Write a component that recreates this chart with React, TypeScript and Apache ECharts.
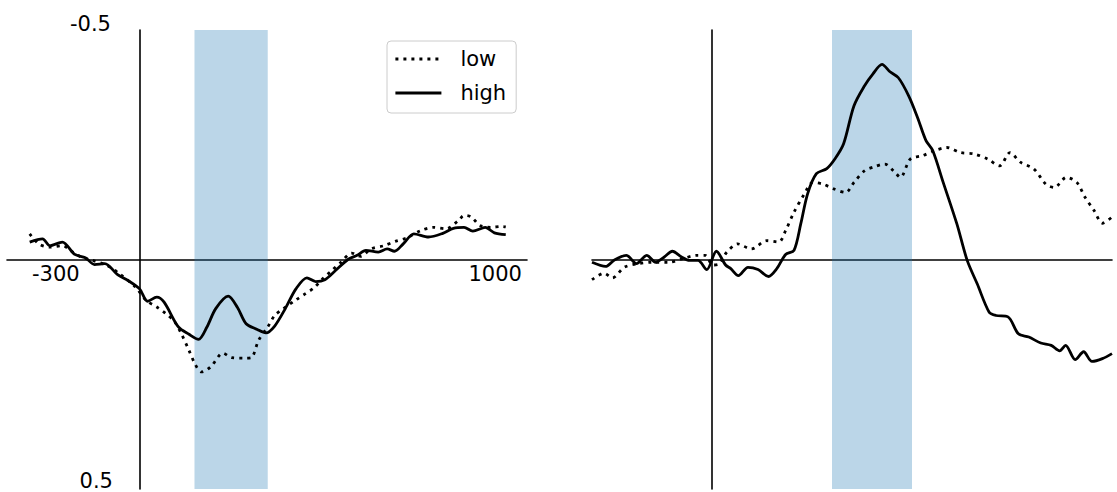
import React, { useEffect, useRef } from 'react';
import * as echarts from 'echarts';

// [time (ms), amplitude] pairs
const LEFT_LOW: number[][] = [
  [-300, -0.056], [-275, -0.034], [-245, -0.027], [-211, -0.03], [-182, -0.016], [-156, -0.004],
  [-128, 0.002], [-89, 0.013], [-55, 0.031], [-11, 0.06], [18, 0.089], [48, 0.104], [72, 0.118],
  [96, 0.136], [116, 0.165], [135, 0.198], [153, 0.23], [169, 0.245], [194, 0.234], [228, 0.204],
  [252, 0.214], [286, 0.215], [305, 0.214], [325, 0.176], [350, 0.147], [369, 0.122], [393, 0.107],
  [427, 0.088], [452, 0.075], [476, 0.062], [500, 0.042], [525, 0.024], [550, 0.006], [579, -0.014],
  [603, -0.007], [632, -0.023], [667, -0.03], [700, -0.04], [730, -0.047], [768, -0.063], [803, -0.07],
  [837, -0.067], [871, -0.085], [886, -0.096], [905, -0.093], [930, -0.074], [959, -0.07], [988, -0.072],
  [1000, -0.071],
];

const LEFT_HIGH: number[][] = [
  [-300, -0.038], [-265, -0.045], [-245, -0.03], [-211, -0.038], [-177, -0.011], [-148, -0.004],
  [-123, 0.011], [-95, 0.009], [-60, 0.033], [-31, 0.046], [0, 0.064], [22, 0.091], [47, 0.082],
  [67, 0.093], [106, 0.147], [135, 0.163], [161, 0.174], [184, 0.147], [208, 0.107], [242, 0.08],
  [267, 0.104], [291, 0.14], [320, 0.152], [345, 0.16], [369, 0.145], [398, 0.107], [427, 0.064],
  [457, 0.04], [481, 0.048], [506, 0.044], [535, 0.024], [569, 0.0], [594, -0.009], [618, -0.02],
  [652, -0.016], [676, -0.023], [696, -0.018], [720, -0.034], [749, -0.056], [789, -0.049], [828, -0.057],
  [857, -0.068], [886, -0.07], [910, -0.062], [944, -0.07], [969, -0.058], [1000, -0.054],
];

const RIGHT_LOW: number[][] = [
  [-300, 0.044], [-270, 0.03], [-249, 0.04], [-219, 0.017], [-184, 0.009], [-150, 0.006],
  [-107, 0.006], [-73, -0.002], [-39, -0.009], [-17, -0.009], [2, 0.012], [15, 0.011], [37, -0.016],
  [64, -0.034], [98, -0.023], [137, -0.041], [167, -0.038], [184, -0.063], [205, -0.103], [231, -0.143],
  [252, -0.168], [278, -0.164], [304, -0.154], [334, -0.146], [355, -0.168], [381, -0.193], [406, -0.202],
  [432, -0.208], [454, -0.193], [471, -0.179], [496, -0.219], [526, -0.226], [556, -0.237], [587, -0.244],
  [621, -0.233], [655, -0.23], [689, -0.219], [719, -0.204], [745, -0.233], [771, -0.212], [805, -0.197],
  [835, -0.164], [856, -0.157], [886, -0.179], [912, -0.168], [933, -0.135], [955, -0.107], [976, -0.079],
  [998, -0.091],
];

const RIGHT_HIGH: number[][] = [
  [-300, 0.006], [-266, 0.015], [-244, 0.001], [-214, -0.009], [-189, 0.009], [-163, -0.009],
  [-141, 0.006], [-120, -0.005], [-99, -0.018], [-77, -0.006], [-56, 0.002], [-35, 0.002], [-13, 0.022],
  [11, -0.018], [34, 0.012], [47, 0.02], [66, 0.035], [90, 0.017], [115, 0.022], [141, 0.037],
  [162, 0.02], [184, -0.011], [205, -0.02], [222, -0.078], [239, -0.143], [261, -0.187], [287, -0.198],
  [308, -0.22], [329, -0.252], [355, -0.335], [381, -0.378], [402, -0.404], [425, -0.425], [445, -0.409],
  [466, -0.396], [492, -0.356], [514, -0.309], [535, -0.259], [552, -0.237], [578, -0.168], [612, -0.078],
  [638, 0.002], [663, 0.053], [693, 0.115], [710, 0.122], [740, 0.125], [766, 0.162], [792, 0.169],
  [822, 0.182], [848, 0.187], [869, 0.199], [884, 0.187], [908, 0.218], [929, 0.201], [950, 0.222],
  [976, 0.216], [1000, 0.205],
];

const SERIES_NAMES = ['low', 'high'];
const X_TICK_VALUES = [-300, 1000];
const X_TICK_LABELS = ['-300', '1000'];
const Y_TICK_VALUES = [-0.5, 0.5];
const Y_TICK_LABELS = ['-0.5', '0.5'];
const LEFT_SHADE = [150, 350];
const RIGHT_SHADE = [300, 500];

export default function App() {
  const ref = useRef<HTMLDivElement>(null);

  useEffect(() => {
    document.body.style.margin = '0';
    const chart = echarts.init(ref.current as HTMLDivElement, null, { renderer: 'svg' });
    const font = 'DejaVu Sans';
    const axisLine = { show: true, onZero: true, lineStyle: { color: '#000', width: 1.6 } };
    const solid = { color: '#000', width: 2.8, type: 'solid' };
    const dotted = { color: '#000', width: 2.8, type: [3, 5], cap: 'butt' };
    const shadeStyle = { color: 'rgba(31,119,180,0.3)' };
    const hidden = { show: false };

    chart.setOption({
      animation: false,
      textStyle: { fontFamily: font },
      grid: [
        { left: 7, top: 30, width: 520, height: 459, containLabel: false, outerBoundsMode: 'none' },
        { left: 592, top: 30, width: 520, height: 459, containLabel: false, outerBoundsMode: 'none' },
      ],
      xAxis: [
        {
          type: 'value', gridIndex: 0, min: -362, max: 1058,
          axisLine, axisTick: hidden, splitLine: hidden, axisLabel: hidden,
        },
        {
          type: 'value', gridIndex: 1, min: -300, max: 1000,
          axisLine, axisTick: hidden, splitLine: hidden, axisLabel: hidden,
        },
      ],
      yAxis: [
        {
          type: 'value', gridIndex: 0, inverse: true, min: -0.5, max: 0.5, interval: 0.5,
          axisLine, axisTick: hidden, splitLine: hidden, axisLabel: hidden,
        },
        {
          type: 'value', gridIndex: 1, inverse: true, min: -0.5, max: 0.5, interval: 0.5,
          axisLine, axisTick: hidden, splitLine: hidden, axisLabel: hidden,
        },
      ],
      legend: {
        data: SERIES_NAMES,
        orient: 'vertical',
        left: 387,
        top: 41,
        padding: [6, 10, 8, 7],
        itemWidth: 46,
        itemHeight: 24,
        itemGap: 10,
        borderColor: '#cccccc',
        borderWidth: 1,
        borderRadius: 4,
        backgroundColor: 'rgba(255,255,255,0.8)',
        selectedMode: false,
        itemStyle: { opacity: 0 },
        lineStyle: { width: 2.8 },
        textStyle: { fontSize: 21, color: '#000', fontFamily: font, padding: [0, 0, 0, 14], lineHeight: 24 },
      },
      series: [
        {
          name: SERIES_NAMES[0], type: 'line', xAxisIndex: 0, yAxisIndex: 0, data: LEFT_LOW,
          symbol: 'none', smooth: 0.3, color: '#000', lineStyle: dotted, z: 3,
          markArea: { silent: true, itemStyle: shadeStyle, data: [[{ xAxis: LEFT_SHADE[0] }, { xAxis: LEFT_SHADE[1] }]] },
        },
        {
          name: SERIES_NAMES[1], type: 'line', xAxisIndex: 0, yAxisIndex: 0, data: LEFT_HIGH,
          symbol: 'none', smooth: 0.3, color: '#000', lineStyle: solid, z: 4,
        },
        {
          name: SERIES_NAMES[0], type: 'line', xAxisIndex: 1, yAxisIndex: 1, data: RIGHT_LOW,
          symbol: 'none', smooth: 0.3, color: '#000', lineStyle: dotted, z: 3,
          markArea: { silent: true, itemStyle: shadeStyle, data: [[{ xAxis: RIGHT_SHADE[0] }, { xAxis: RIGHT_SHADE[1] }]] },
        },
        {
          name: SERIES_NAMES[1], type: 'line', xAxisIndex: 1, yAxisIndex: 1, data: RIGHT_HIGH,
          symbol: 'none', smooth: 0.3, color: '#000', lineStyle: solid, z: 4,
        },
      ],
    });

    // Tick labels placed at the axis positions computed by the chart's own scales
    const toPx = (pt: number[]) => chart.convertToPixel({ gridIndex: 0 }, pt) as number[];
    const textStyle = (text: string, align: string) => ({
      text, align, verticalAlign: 'middle', fill: '#000', font: `21px "${font}"`,
    });
    const xa = toPx([X_TICK_VALUES[0], 0]);
    const xb = toPx([X_TICK_VALUES[1], 0]);
    const ya = toPx([0, Y_TICK_VALUES[0]]);
    const yb = toPx([0, Y_TICK_VALUES[1]]);
    chart.setOption({
      graphic: [
        { type: 'text', x: xa[0] + 2.3, y: xa[1] + 14.5, style: textStyle(X_TICK_LABELS[0], 'left') },
        { type: 'text', x: xb[0] + 16.2, y: xb[1] + 14.5, style: textStyle(X_TICK_LABELS[1], 'right') },
        { type: 'text', x: ya[0] - 28.6, y: ya[1] - 6.5, style: textStyle(Y_TICK_LABELS[0], 'right') },
        { type: 'text', x: yb[0] - 26.6, y: yb[1] - 8.5, style: textStyle(Y_TICK_LABELS[1], 'right') },
      ],
    });

    return () => chart.dispose();
  }, []);

  return (
    <div
      ref={ref}
      style={{ position: 'fixed', left: 0, top: 0, width: 1117, height: 492, background: '#fff' }}
    />
  );
}
